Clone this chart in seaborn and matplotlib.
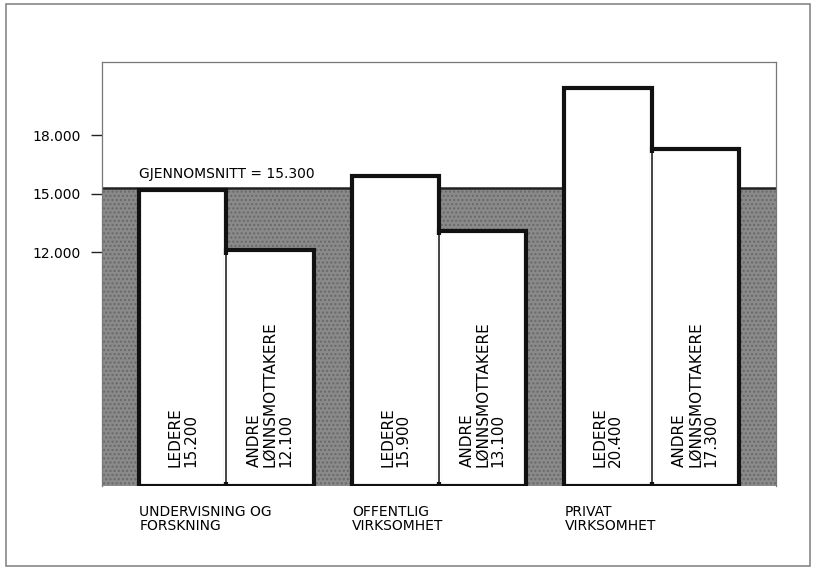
import pandas as pd
import matplotlib.pyplot as plt
import seaborn as sns
from matplotlib.patches import Rectangle

# data
sektorer = ["UNDERVISNING OG\nFORSKNING", "OFFENTLIG\nVIRKSOMHET", "PRIVAT\nVIRKSOMHET"]
ledere = [15200, 15900, 20400]
andre = [12100, 13100, 17300]
gjennomsnitt = 15300
y_ticks = [12000, 15000, 18000]
gruppe_tekst = {"Ledere": "LEDERE", "Andre": "ANDRE\nLØNNSMOTTAKERE"}


def punktum(v):
    return f"{v:,}".replace(",", ".")


df = pd.DataFrame({
    "sektor": sektorer * 2,
    "lonn": ledere + andre,
    "gruppe": ["Ledere"] * 3 + ["Andre"] * 3,
})

sns.set_style("white")
plt.rcParams["font.family"] = ["DejaVu Sans"]

fig = plt.figure(figsize=(8.17, 5.69), dpi=100)
ax = fig.add_axes([102 / 817, 1 - 486 / 569, 674 / 817, 424 / 569])

# shaded area up to the average
ax.axhspan(0, gjennomsnitt, facecolor="#8a8a8a", edgecolor="#686868",
           hatch="....", linewidth=0, zorder=0)
ax.axhline(gjennomsnitt, color="#222222", lw=1.8, zorder=1)

sns.barplot(data=df, x="sektor", y="lonn", hue="gruppe", order=sektorer,
            hue_order=["Ledere", "Andre"],
            palette={"Ledere": "white", "Andre": "white"}, saturation=1,
            width=0.82, edgecolor="#111111", linewidth=3, legend=False,
            errorbar=None, ax=ax, zorder=2)

bars = [p for c in ax.containers for p in c]
bars = sorted(bars, key=lambda p: p.get_x())

# thin divider between the two bars of a group
for i in range(0, len(bars), 2):
    a, b = bars[i], bars[i + 1]
    x = a.get_x() + a.get_width()
    h = min(a.get_height(), b.get_height())
    ax.plot([x, x], [180, h - 230], color="white", lw=4, zorder=3,
            solid_capstyle="butt")
    ax.plot([x, x], [180, h], color="#111111", lw=1.1, zorder=4,
            solid_capstyle="butt")

# labels inside the bars
for p, gruppe in zip(bars, ["Ledere", "Andre"] * 3):
    v = int(round(p.get_height()))
    ax.text(p.get_x() + p.get_width() / 2, 1000,
            f"{gruppe_tekst[gruppe]}\n{punktum(v)}",
            rotation=90, ha="center", va="bottom", multialignment="left",
            fontsize=11, linespacing=1.05, color="black", zorder=5)

ax.text(bars[0].get_x(), gjennomsnitt + 350,
        f"GJENNOMSNITT = {punktum(gjennomsnitt)}",
        ha="left", va="bottom", fontsize=10, color="black")

ax.set_xlim(-0.585, 2.585)
ax.set_ylim(0, 21750)
ax.set_xticks([i - 0.41 for i in range(len(sektorer))])
ax.set_xticklabels(sektorer, ha="left", fontsize=10, linespacing=1.0,
                   color="black")
ax.tick_params(axis="x", length=0, pad=14)
ax.set_yticks(y_ticks)
ax.set_yticklabels([punktum(t) for t in y_ticks], fontsize=10, color="black")
ax.tick_params(axis="y", left=True, direction="out", length=8, width=1,
               pad=7, color="#222222")
ax.set_xlabel("")
ax.set_ylabel("")

for side in ["top", "left", "right"]:
    ax.spines[side].set_color("#777777")
    ax.spines[side].set_linewidth(0.9)
ax.spines["bottom"].set_visible(False)

fig.patches.append(Rectangle((6 / 817, 3 / 569), 804 / 817, 562 / 569,
                             transform=fig.transFigure, fill=False,
                             edgecolor="#888888", lw=1.2))

fig.savefig("out.png", dpi=100)
